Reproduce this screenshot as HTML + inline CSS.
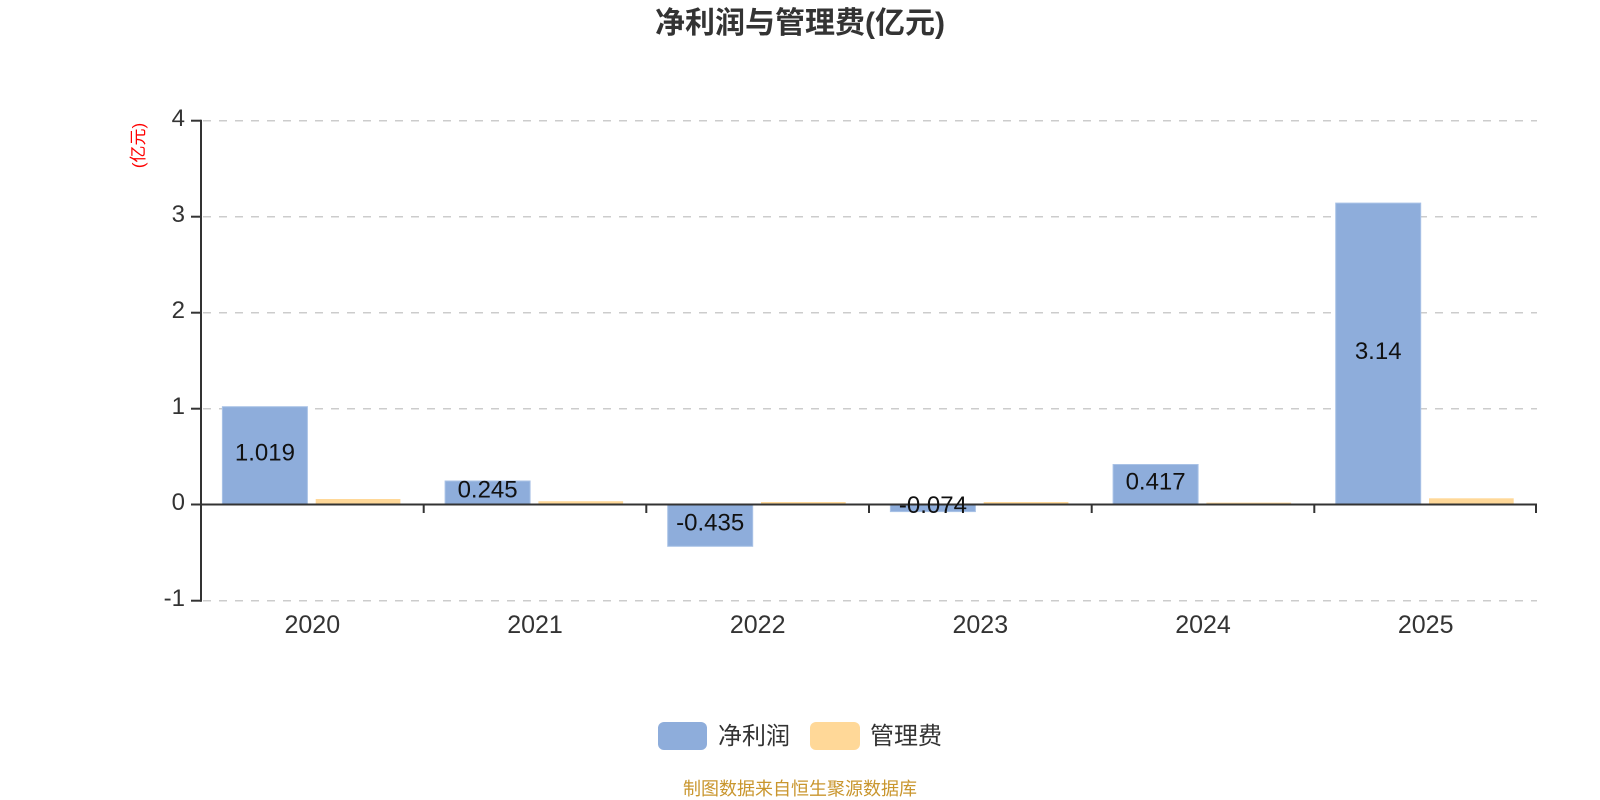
<!DOCTYPE html>
<html>
<head>
<meta charset="utf-8">
<style>
  html, body { margin: 0; padding: 0; background: #ffffff; }
  body { width: 1600px; height: 800px; overflow: hidden; }
  svg { display: block; font-family: "Liberation Sans", "Noto Sans CJK SC", sans-serif; }
</style>
</head>
<body>
<svg width="1600" height="800" viewBox="0 0 1600 800" xmlns="http://www.w3.org/2000/svg">
  <rect x="0" y="0" width="1600" height="800" fill="#ffffff"/>

  <!-- Title -->
  <text x="800" y="33" text-anchor="middle" font-size="30" font-weight="bold" fill="#333333" font-family="'Liberation Sans','Noto Sans CJK SC',sans-serif">净利润与管理费(亿元)</text>

  <!-- Y axis name -->
  <text transform="translate(144,145.5) rotate(-90)" text-anchor="middle" font-size="17" fill="#ff0000" font-family="'Liberation Sans','Noto Sans CJK SC',sans-serif">(亿元)</text>

  <!-- Grid lines -->
  <g stroke="#cccccc" stroke-width="1.5" stroke-dasharray="8,8" fill="none">
    <line x1="203" y1="120.7" x2="1537" y2="120.7"/>
    <line x1="203" y1="216.7" x2="1537" y2="216.7"/>
    <line x1="203" y1="312.7" x2="1537" y2="312.7"/>
    <line x1="203" y1="408.7" x2="1537" y2="408.7"/>
    <line x1="203" y1="600.7" x2="1537" y2="600.7"/>
  </g>

  <!-- Blue bars (净利润) -->
  <g fill="#8eaddb" stroke="#a9c2e6" stroke-width="1">
    <rect x="222.4" y="406.7" width="85" height="97.8"/>
    <rect x="445.1" y="481.0" width="85" height="23.5"/>
    <rect x="667.7" y="504.5" width="85" height="41.8"/>
    <rect x="890.4" y="504.5" width="85" height="7.1"/>
    <rect x="1113.1" y="464.5" width="85" height="40.0"/>
    <rect x="1335.7" y="203.1" width="85" height="301.4"/>
  </g>

  <!-- Orange bars (管理费) -->
  <g fill="#ffd898">
    <rect x="315.7" y="499.0" width="84.7" height="5.5"/>
    <rect x="538.4" y="501.2" width="84.7" height="3.3"/>
    <rect x="761.0" y="502.0" width="84.7" height="2.5"/>
    <rect x="983.7" y="502.0" width="84.7" height="2.5"/>
    <rect x="1206.4" y="502.6" width="84.7" height="1.9"/>
    <rect x="1429.0" y="498.3" width="84.7" height="6.2"/>
  </g>

  <!-- Y axis -->
  <g stroke="#333333" stroke-width="2" fill="none">
    <line x1="201" y1="119.7" x2="201" y2="601.7"/>
    <line x1="191" y1="120.7" x2="201" y2="120.7"/>
    <line x1="191" y1="216.7" x2="201" y2="216.7"/>
    <line x1="191" y1="312.7" x2="201" y2="312.7"/>
    <line x1="191" y1="408.7" x2="201" y2="408.7"/>
    <line x1="191" y1="504.5" x2="201" y2="504.5"/>
    <line x1="191" y1="600.7" x2="201" y2="600.7"/>
  </g>

  <!-- X axis -->
  <g stroke="#333333" stroke-width="2" fill="none">
    <line x1="201" y1="504.5" x2="1537" y2="504.5"/>
    <line x1="423.7" y1="504.5" x2="423.7" y2="513"/>
    <line x1="646.3" y1="504.5" x2="646.3" y2="513"/>
    <line x1="869" y1="504.5" x2="869" y2="513"/>
    <line x1="1091.7" y1="504.5" x2="1091.7" y2="513"/>
    <line x1="1314.3" y1="504.5" x2="1314.3" y2="513"/>
    <line x1="1536" y1="504.5" x2="1536" y2="513"/>
  </g>

  <!-- Y tick labels -->
  <g font-size="24" fill="#333333" text-anchor="end">
    <text x="185" y="126">4</text>
    <text x="185" y="222">3</text>
    <text x="185" y="318">2</text>
    <text x="185" y="414">1</text>
    <text x="185" y="510">0</text>
    <text x="185" y="606">-1</text>
  </g>

  <!-- X tick labels -->
  <g font-size="25" fill="#333333" text-anchor="middle">
    <text x="312.3" y="633">2020</text>
    <text x="535" y="633">2021</text>
    <text x="757.7" y="633">2022</text>
    <text x="980.3" y="633">2023</text>
    <text x="1203" y="633">2024</text>
    <text x="1425.7" y="633">2025</text>
  </g>

  <!-- Bar value labels -->
  <g font-size="24" fill="#111111" text-anchor="middle">
    <text x="264.9" y="460.6">1.019</text>
    <text x="487.6" y="497.7">0.245</text>
    <text x="710.2" y="530.4">-0.435</text>
    <text x="932.9" y="513">-0.074</text>
    <text x="1155.6" y="489.5">0.417</text>
    <text x="1378.2" y="358.8">3.14</text>
  </g>

  <!-- Legend -->
  <rect x="658" y="722" width="49" height="28" rx="6" ry="6" fill="#8eaddb"/>
  <text x="718" y="744" font-size="24" fill="#333333">净利润</text>
  <rect x="810" y="722" width="50" height="28" rx="6" ry="6" fill="#ffd898"/>
  <text x="870" y="744" font-size="24" fill="#333333">管理费</text>

  <!-- Footer -->
  <text x="800" y="795" text-anchor="middle" font-size="18" fill="#c9962e">制图数据来自恒生聚源数据库</text>
</svg>
</body>
</html>
